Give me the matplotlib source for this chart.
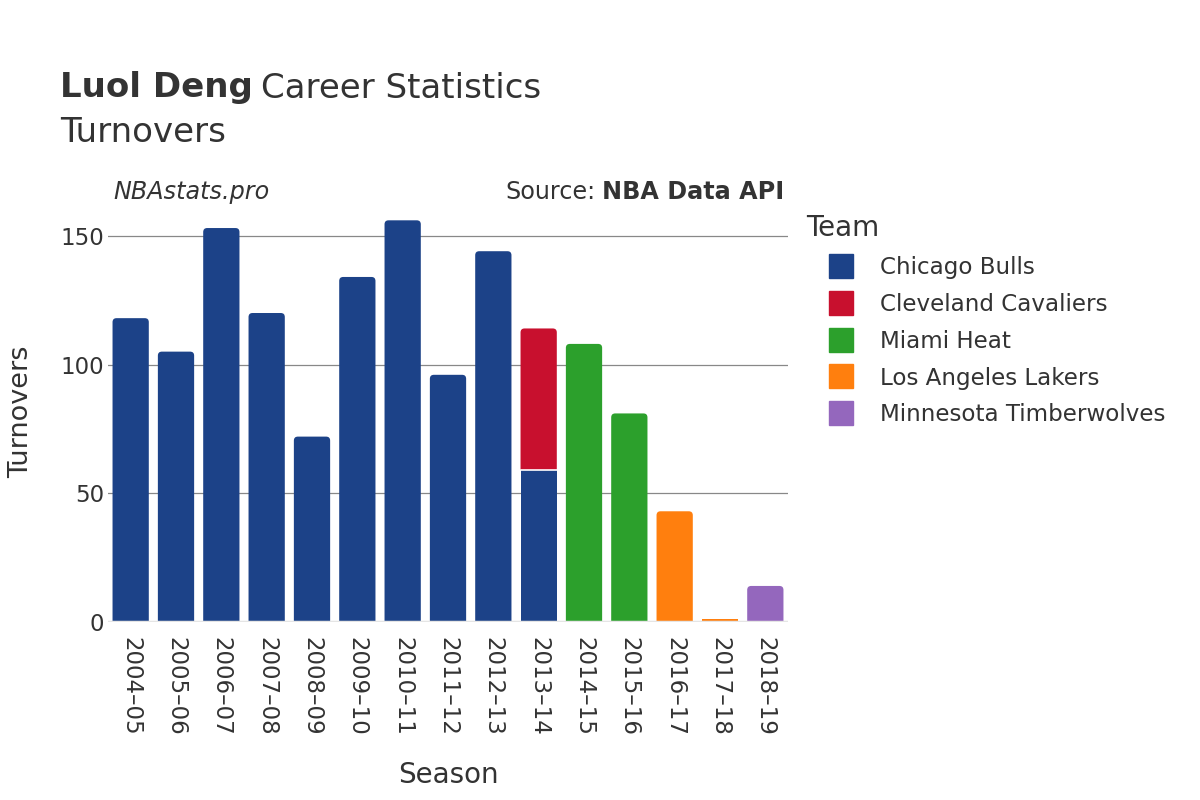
import matplotlib
matplotlib.use("Agg")
import matplotlib.pyplot as plt
from matplotlib.lines import Line2D
from matplotlib.patches import PathPatch
from matplotlib.path import Path
import numpy as np

seasons = ["2004–05", "2005–06", "2006–07", "2007–08", "2008–09", "2009–10",
           "2010–11", "2011–12", "2012–13", "2013–14", "2014–15", "2015–16",
           "2016–17", "2017–18", "2018–19"]
teams = ["Chicago Bulls", "Cleveland Cavaliers", "Miami Heat",
         "Los Angeles Lakers", "Minnesota Timberwolves"]
colors = ["#1c4288", "#c8102e", "#2ca02c", "#ff7f0e", "#9467bd"]
bulls = [118, 105, 153, 120, 72, 134, 156, 96, 144, 59, 0, 0, 0, 0, 0]
cavs = [0, 0, 0, 0, 0, 0, 0, 0, 0, 55, 0, 0, 0, 0, 0]
heat = [0, 0, 0, 0, 0, 0, 0, 0, 0, 0, 108, 81, 0, 0, 0]
lakers = [0, 0, 0, 0, 0, 0, 0, 0, 0, 0, 0, 0, 43, 1, 0]
wolves = [0, 0, 0, 0, 0, 0, 0, 0, 0, 0, 0, 0, 0, 0, 14]
series = [bulls, cavs, heat, lakers, wolves]

TXT = "#333333"
plt.rcParams['font.family'] = ['DejaVu Sans']
fig = plt.figure(figsize=(12, 8), dpi=100)
ax = fig.add_axes([108/1200, 1-622/800, 680/1200, (622-201)/800])
ax.set_xlim(-0.5, len(seasons) - 0.5)
ax.set_ylim(0, 163.5)

# pixel scales for rounded top corners
px_x = 680 / len(seasons)
px_y = 421 / 163.5
r_px = 4.0
rx = r_px / px_x
ry = r_px / px_y


def top_rounded(x0, y0, w, h, c):
    x1, y1 = x0 + w, y0 + h
    verts = [(x0, y0), (x0, y1 - ry), (x0, y1), (x0 + rx, y1),
             (x1 - rx, y1), (x1, y1), (x1, y1 - ry), (x1, y0), (x0, y0)]
    codes = [Path.MOVETO, Path.LINETO, Path.CURVE3, Path.CURVE3,
             Path.LINETO, Path.CURVE3, Path.CURVE3, Path.LINETO, Path.CLOSEPOLY]
    ax.add_patch(PathPatch(Path(verts, codes), facecolor=c, edgecolor="none",
                           zorder=3))


x = np.arange(len(seasons))
totals = np.sum(np.array(series, dtype=float), axis=0)
bottom = np.zeros(len(seasons))
width = 0.8
for vals, c in zip(series, colors):
    v = np.array(vals, dtype=float)
    for i in range(len(seasons)):
        if v[i] <= 0:
            continue
        top_seg = np.isclose(bottom[i] + v[i], totals[i])
        if top_seg and v[i] * px_y > 3 * r_px:
            top_rounded(x[i] - width/2, bottom[i], width, v[i], c)
        else:
            ax.bar(x[i], v[i], bottom=bottom[i], width=width, color=c,
                   linewidth=0, zorder=3)
        if bottom[i] > 0:
            ax.plot([x[i] - width/2, x[i] + width/2], [bottom[i], bottom[i]],
                    color="white", linewidth=1.2, zorder=5)
    bottom += v

ax.set_yticks([0, 50, 100, 150])
ax.yaxis.grid(True, color="#888888", linewidth=0.9, zorder=0)
ax.axhline(0, color="#e5e5e5", linewidth=2.5, zorder=4)
for s in ax.spines.values():
    s.set_visible(False)
ax.tick_params(axis="both", length=0, labelsize=16.5, labelcolor=TXT)
ax.tick_params(axis="y", pad=3)
ax.tick_params(axis="x", pad=11)
ax.set_xticks(x)
ax.set_xticklabels(seasons, rotation=-90)
ax.set_xlabel("Season", fontsize=20, color=TXT, labelpad=18)
ax.set_ylabel("Turnovers", fontsize=19.5, color=TXT, labelpad=19)

t1 = fig.text(60/1200, 1-88/800, "Luol Deng", fontsize=24.5, color=TXT,
              va="center", ha="left", fontweight="bold")
fig.canvas.draw()
bb = t1.get_window_extent()
fig.text(bb.x1/1200 + 8/1200, 1-88/800, "Career Statistics", fontsize=24.5,
         color=TXT, va="center", ha="left")
fig.text(60/1200, 1-132/800, "Turnovers", fontsize=24.5, color=TXT,
         va="center", ha="left")

fig.text(113/1200, 1-192/800, "NBAstats.pro", fontsize=17.2, color=TXT,
         style="italic", va="center", ha="left")
s2 = fig.text(784/1200, 1-192/800, "NBA Data API", fontsize=17.2, color=TXT,
              fontweight="bold", va="center", ha="right")
fig.canvas.draw()
bb2 = s2.get_window_extent()
fig.text(bb2.x0/1200 - 6/1200, 1-192/800, "Source:", fontsize=17.2, color=TXT,
         va="center", ha="right")

handles = [Line2D([0], [0], marker="s", linestyle="none", markersize=17,
                  markerfacecolor=c, markeredgecolor=c) for c in colors]
leg = fig.legend(handles, teams, loc="upper left", bbox_to_anchor=(797/1200, 1-205/800),
                 frameon=False, fontsize=16.6, title="Team", title_fontsize=20,
                 labelcolor=TXT, handletextpad=0.2, labelspacing=0.6,
                 borderaxespad=0, handlelength=3.0)
leg.get_title().set_color(TXT)
leg._legend_box.align = "left"

fig.savefig("out.png", dpi=100, facecolor="white")
